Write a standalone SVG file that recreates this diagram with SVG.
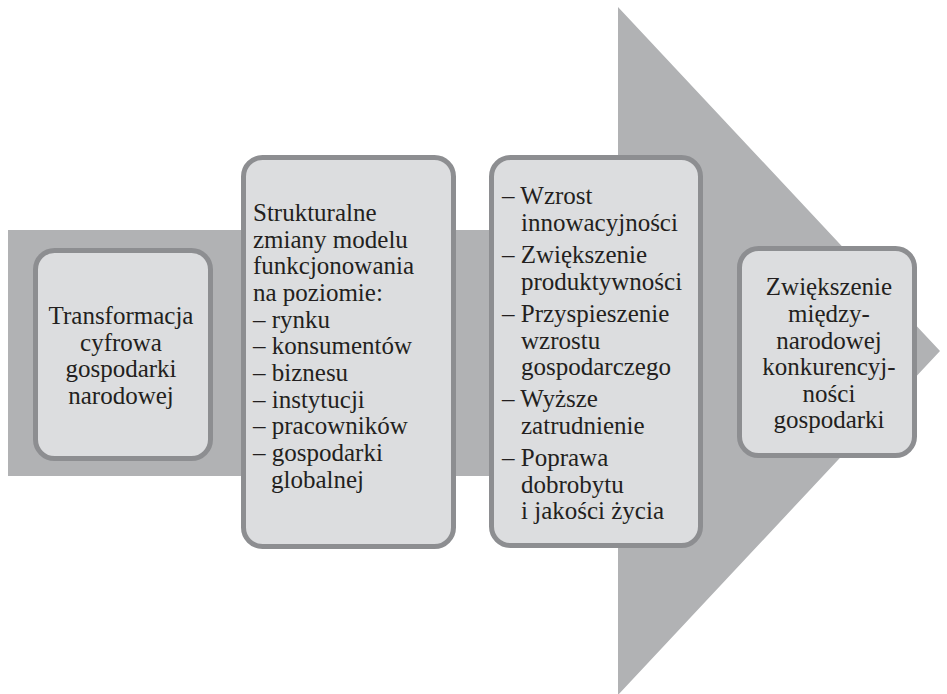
<svg xmlns="http://www.w3.org/2000/svg" width="947" height="694" viewBox="0 0 947 694">
<style>
.box{fill:#dcdddf;stroke:#8d8e91;stroke-width:5}
.t{font-family:'Liberation Serif','Times New Roman',serif;font-size:25px;fill:#231f20}
.c{text-anchor:middle}
</style>
<rect width="947" height="694" fill="#ffffff"/>
<g id="connectors">
<polygon points="8,230 618,230 618,7 940,351 618,695 618,476 8,476" fill="#b1b2b4"/>
</g>
<g id="node1">
<rect class="box" x="35.5" y="250.5" width="175" height="208" rx="19"/>
<text class="t c"><tspan x="121" y="324">Transformacja</tspan><tspan x="121" y="351">cyfrowa</tspan><tspan x="121" y="377">gospodarki</tspan><tspan x="121" y="404">narodowej</tspan></text>
</g>
<g id="node2">
<rect class="box" x="243.5" y="157.5" width="210" height="389" rx="19"/>
<text class="t"><tspan x="253" y="221">Strukturalne</tspan><tspan x="253" y="248">zmiany modelu</tspan><tspan x="253" y="274">funkcjonowania</tspan><tspan x="253" y="301">na poziomie:</tspan><tspan x="253" y="328">– rynku</tspan><tspan x="253" y="354">– konsumentów</tspan><tspan x="253" y="381">– biznesu</tspan><tspan x="253" y="408">– instytucji</tspan><tspan x="253" y="434">– pracowników</tspan><tspan x="253" y="461">– gospodarki</tspan><tspan x="271" y="488">globalnej</tspan></text>
</g>
<g id="node3">
<rect class="box" x="491.5" y="157.5" width="209" height="388" rx="19"/>
<text class="t"><tspan x="502" y="204">– Wzrost</tspan><tspan x="521" y="231">innowacyjności</tspan><tspan x="502" y="263">– Zwiększenie</tspan><tspan x="521" y="290">produktywności</tspan><tspan x="502" y="322">– Przyspieszenie</tspan><tspan x="521" y="349">wzrostu</tspan><tspan x="521" y="375">gospodarczego</tspan><tspan x="502" y="407">– Wyższe</tspan><tspan x="521" y="434">zatrudnienie</tspan><tspan x="502" y="466">– Poprawa</tspan><tspan x="521" y="493">dobrobytu</tspan><tspan x="521" y="519">i jakości życia</tspan></text>
</g>
<g id="node4">
<rect class="box" x="739.5" y="248.5" width="175" height="207" rx="19"/>
<text class="t c"><tspan x="829" y="295">Zwiększenie</tspan><tspan x="829" y="322">między-</tspan><tspan x="829" y="349">narodowej</tspan><tspan x="829" y="375">konkurencyj-</tspan><tspan x="829" y="402">ności</tspan><tspan x="829" y="428">gospodarki</tspan></text>
</g>
</svg>
